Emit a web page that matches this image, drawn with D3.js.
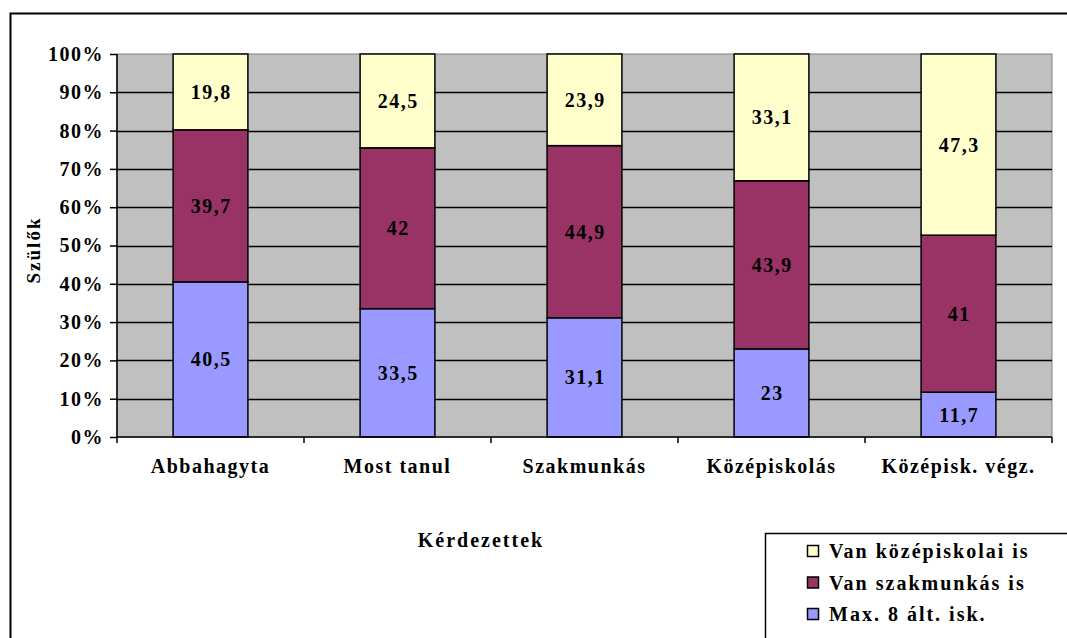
<!DOCTYPE html>
<html>
<head>
<meta charset="utf-8">
<script src="https://d3js.org/d3.v7.min.js"></script>
<style>
  body { margin: 0; background: #fff; }
  svg text { font-family: "Liberation Serif", "Times New Roman", serif; font-weight: bold; fill: #000; }
</style>
</head>
<body>
<svg width="1067" height="638"></svg>
<script>
var categories = ["Abbahagyta", "Most tanul", "Szakmunkás", "Középiskolás", "Középisk. végz."];
var seriesNames = ["Max. 8 ált. isk.", "Van szakmunkás is", "Van középiskolai is"];
var maxAlt = [40.5, 33.5, 31.1, 23, 11.7];
var szakmunkas = [39.7, 42, 44.9, 43.9, 41];
var kozepiskolai = [19.8, 24.5, 23.9, 33.1, 47.3];
var labels = [
  ["40,5", "33,5", "31,1", "23", "11,7"],
  ["39,7", "42", "44,9", "43,9", "41"],
  ["19,8", "24,5", "23,9", "33,1", "47,3"]
];
var yTicks = [0, 0.1, 0.2, 0.3, 0.4, 0.5, 0.6, 0.7, 0.8, 0.9, 1];
var colors = ["#9999FF", "#993366", "#FFFFCC"];

var svg = d3.select("svg");

// outer chart border (runs off the right and bottom)
svg.append("rect")
  .attr("x", 10.5).attr("y", 13.5)
  .attr("width", 1100).attr("height", 700)
  .attr("fill", "#fff").attr("stroke", "#000").attr("stroke-width", 2);

var plotL = 117, plotR = 1052, plotT = 54, plotB = 437;

var x = d3.scaleBand().domain(categories).range([plotL, plotR]).paddingInner(0.6).paddingOuter(0.3);
var xb = d3.scaleBand().domain(categories).range([plotL, plotR]);
var y = d3.scaleLinear().domain([0, 1]).range([plotB, plotT]);

// plot area
svg.append("rect")
  .attr("x", plotL).attr("y", plotT)
  .attr("width", plotR - plotL).attr("height", plotB - plotT)
  .attr("fill", "#C0C0C0").attr("stroke", "#808080").attr("stroke-width", 1);

// gridlines
svg.append("g").selectAll("line")
  .data(yTicks.slice(1, -1))
  .enter().append("line")
  .attr("x1", plotL).attr("x2", plotR)
  .attr("y1", function(d) { return Math.round(y(d)) + 0.5; })
  .attr("y2", function(d) { return Math.round(y(d)) + 0.5; })
  .attr("stroke", "#000").attr("stroke-width", 1.5);

// stack
var rows = categories.map(function(c, i) {
  var tot = maxAlt[i] + szakmunkas[i] + kozepiskolai[i];
  return { cat: c, s0: maxAlt[i] / tot, s1: szakmunkas[i] / tot, s2: kozepiskolai[i] / tot };
});
var stack = d3.stack().keys(["s0", "s1", "s2"]);
var layers = stack(rows);

var gl = svg.append("g").selectAll("g")
  .data(layers)
  .enter().append("g")
  .attr("fill", function(d, i) { return colors[i]; });

gl.selectAll("rect")
  .data(function(d) { return d; })
  .enter().append("rect")
  .attr("x", function(d) { return x(d.data.cat); })
  .attr("y", function(d) { return y(d[1]); })
  .attr("width", x.bandwidth())
  .attr("height", function(d) { return y(d[0]) - y(d[1]); })
  .attr("stroke", "#000").attr("stroke-width", 1.5);

// value labels
layers.forEach(function(layer, li) {
  svg.append("g").selectAll("text")
    .data(layer)
    .enter().append("text")
    .attr("x", function(d) { return x(d.data.cat) + x.bandwidth() / 2 + 0.75; })
    .attr("y", function(d) { return (y(d[0]) + y(d[1])) / 2; })
    .attr("dy", "0.35em")
    .attr("text-anchor", "middle")
    .style("font-size", "20px")
    .style("letter-spacing", "1.5px")
    .text(function(d, i) { return labels[li][i]; });
});

// y axis
var yAxis = svg.append("g")
  .attr("transform", "translate(" + plotL + ",0)")
  .call(d3.axisLeft(y).tickValues(yTicks).tickFormat(d3.format(".0%")).tickSize(7).tickPadding(6));
yAxis.selectAll("text").style("font-size", "20px").style("letter-spacing", "1.5px");
yAxis.selectAll("line, path").attr("stroke", "#000").attr("stroke-width", 1.5);
yAxis.select(".domain").attr("d", "M0," + plotB + "V" + plotT);

// x axis
var xAxis = svg.append("g")
  .attr("transform", "translate(0," + plotB + ")")
  .call(d3.axisBottom(xb).tickSize(0).tickPadding(22));
xAxis.selectAll("text").style("font-size", "20px").style("letter-spacing", "1.5px");
xAxis.select(".domain").attr("stroke", "#000").attr("stroke-width", 1.5)
  .attr("d", "M" + plotL + ",0H" + plotR);
xAxis.selectAll(".bnd")
  .data(d3.range(categories.length + 1))
  .enter().append("line")
  .attr("x1", function(i) { return plotL + i * xb.step(); })
  .attr("x2", function(i) { return plotL + i * xb.step(); })
  .attr("y1", 0).attr("y2", 6)
  .attr("stroke", "#000").attr("stroke-width", 1.5);

// axis titles
svg.append("text")
  .attr("transform", "translate(40,250) rotate(-90)")
  .attr("text-anchor", "middle")
  .style("font-size", "19px")
  .style("letter-spacing", "2px")
  .text("Szülők");

svg.append("text")
  .attr("x", 481).attr("y", 547)
  .attr("text-anchor", "middle")
  .style("font-size", "20px")
  .style("letter-spacing", "2px")
  .text("Kérdezettek");

// legend
var legend = svg.append("g");
legend.append("rect")
  .attr("x", 765.5).attr("y", 533.5)
  .attr("width", 400).attr("height", 200)
  .attr("fill", "#fff").attr("stroke", "#000").attr("stroke-width", 1.5);

var legendOrder = [2, 1, 0];
var item = legend.selectAll(".item")
  .data(legendOrder)
  .enter().append("g")
  .attr("transform", function(d, i) { return "translate(807," + (551 + i * 31.5) + ")"; });
item.append("rect")
  .attr("x", 0.5).attr("y", -5.5)
  .attr("width", 11).attr("height", 11)
  .attr("fill", function(d) { return colors[d]; })
  .attr("stroke", "#000").attr("stroke-width", 1.5);
item.append("text")
  .attr("x", 22).attr("dy", "0.35em")
  .style("font-size", "20px")
  .style("letter-spacing", "2px")
  .text(function(d) { return seriesNames[d]; });
</script>
</body>
</html>
